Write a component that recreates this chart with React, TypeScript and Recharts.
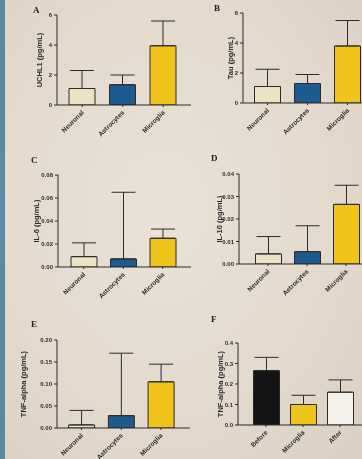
import React from "react";
import { BarChart, Bar, XAxis, YAxis, ErrorBar, Cell } from "recharts";

// ---- data ----
const cellCategories = ["Neuronal", "Astrocytes", "Microglia"];
const treatCategories = ["Before", "Microglia", "After"];

const uchl1Values = [1.1, 1.35, 3.95];
const uchl1Upper = [2.3, 2.0, 5.6];
const tauValues = [1.1, 1.3, 3.8];
const tauUpper = [2.25, 1.9, 5.5];
const il6Values = [0.009, 0.007, 0.025];
const il6Upper = [0.021, 0.065, 0.033];
const il10Values = [0.0045, 0.0055, 0.0265];
const il10Upper = [0.0122, 0.017, 0.035];
const tnfCellValues = [0.007, 0.028, 0.105];
const tnfCellUpper = [0.04, 0.17, 0.145];
const tnfTreatValues = [0.265, 0.1, 0.16];
const tnfTreatUpper = [0.33, 0.145, 0.22];

const ticksAB = [0, 2, 4, 6];
const ticksC = [0, 0.02, 0.04, 0.06, 0.08];
const ticksD = [0, 0.01, 0.02, 0.03, 0.04];
const ticksE = [0, 0.05, 0.1, 0.15, 0.2];
const ticksF = [0, 0.1, 0.2, 0.3, 0.4];

const cellColors = ["#ebe3c1", "#1d5a8f", "#f0c41a"];
const treatColors = ["#141414", "#f0c41a", "#f4f0ea"];

const build = (cats: string[], vals: number[], upper: number[]) =>
  cats.map((c, i) => ({ name: c, value: vals[i], err: [0, upper[i] - vals[i]] }));

const FONT = "'Liberation Sans', Arial, sans-serif";
const INK = "#2b2b2b";

const XTick = (props: any) => {
  const { x, y, payload } = props;
  return (
    <g transform={`translate(${x + 2},${y + 4})`}>
      <text
        x={0}
        y={0}
        textAnchor="end"
        transform="rotate(-45)"
        fontSize={6.5}
        fontWeight="bold"
        fontFamily={FONT}
        fill={INK}
      >
        {payload.value}
      </text>
    </g>
  );
};

type PanelProps = {
  x0: number;
  yTop: number;
  yBot: number;
  x1: number;
  padL: number;
  band: number;
  labelOffset: number;
  label: string;
  data: any[];
  colors: string[];
  ticks: number[];
  fmt: (v: number) => string;
};

const Panel = (p: PanelProps) => {
  const AX = 50;
  const top = 8;
  const plotW = p.x1 - p.x0;
  const plotH = p.yBot - p.yTop;
  const width = AX + plotW + 2;
  const height = top + plotH + 40;
  const padR = plotW - p.padL - 3 * p.band;
  return (
    <div style={{ position: "absolute", left: p.x0 - AX, top: p.yTop - top }}>
      <BarChart
        width={width}
        height={height}
        data={p.data}
        margin={{ top, right: 2, left: 0, bottom: 0 }}
        style={{ overflow: "visible" }}
      >
        <XAxis
          dataKey="name"
          height={40}
          padding={{ left: p.padL, right: padR }}
          tick={<XTick />}
          tickSize={2}
          tickMargin={2}
          axisLine={{ stroke: INK, strokeWidth: 1 }}
          tickLine={{ stroke: INK }}
          interval={0}
        />
        <YAxis
          width={AX}
          domain={[p.ticks[0], p.ticks[p.ticks.length - 1]]}
          ticks={p.ticks}
          tickFormatter={p.fmt}
          tickSize={3}
          tickMargin={2}
          axisLine={{ stroke: INK, strokeWidth: 1 }}
          tickLine={{ stroke: INK }}
          tick={{ fontSize: 6, fontWeight: "bold", fontFamily: FONT, fill: INK }}
          allowDataOverflow
          label={{
            value: p.label,
            angle: -90,
            position: "insideLeft",
            offset: p.labelOffset,
            style: {
              textAnchor: "middle",
              fontSize: 7.5,
              fontWeight: "bold",
              fontFamily: FONT,
              fill: INK,
            },
          }}
        />
        <Bar dataKey="value" barSize={26} stroke={INK} strokeWidth={1} isAnimationActive={false}>
          {p.data.map((_, i) => (
            <Cell key={i} fill={p.colors[i]} />
          ))}
          <ErrorBar dataKey="err" width={12} stroke={INK} strokeWidth={1} direction="y" />
        </Bar>
      </BarChart>
    </div>
  );
};

const Letter = ({ x, y, t }: { x: number; y: number; t: string }) => (
  <div
    style={{
      position: "absolute",
      left: x,
      top: y,
      fontFamily: "'Liberation Serif', 'Times New Roman', serif",
      fontWeight: "bold",
      fontSize: 9,
      color: "#222",
      lineHeight: 1,
    }}
  >
    {t}
  </div>
);

export default function App() {
  const f0 = (v: number) => String(v);
  const f2 = (v: number) => v.toFixed(2);
  const f1 = (v: number) => v.toFixed(1);
  return (
    <div
      style={{
        position: "fixed",
        left: 0,
        top: 0,
        width: 362,
        height: 459,
        overflow: "hidden",
        background: "radial-gradient(ellipse at 45% 45%, #eae2d8 0%, #e3d9cd 60%, #d9cfc3 100%)",
      }}
    >
      <div style={{ position: "absolute", left: 0, top: 0, width: 5, height: 459, background: "#5b89a3" }} />
      <Letter x={33} y={6} t="A" />
      <Letter x={214} y={4} t="B" />
      <Letter x={31} y={156} t="C" />
      <Letter x={211} y={154} t="D" />
      <Letter x={31} y={320} t="E" />
      <Letter x={211} y={315} t="F" />

      <Panel x0={57} yTop={15} yBot={105} x1={191} padL={5} band={40.5} labelOffset={32}
        label="UCHL1 (pg/mL)" data={build(cellCategories, uchl1Values, uchl1Upper)}
        colors={cellColors} ticks={ticksAB} fmt={f0} />
      <Panel x0={243} yTop={13} yBot={103} x1={375} padL={4.5} band={40} labelOffset={37}
        label="Tau (pg/mL)" data={build(cellCategories, tauValues, tauUpper)}
        colors={cellColors} ticks={ticksAB} fmt={f0} />
      <Panel x0={58} yTop={175} yBot={267} x1={191} padL={6} band={39.5} labelOffset={28}
        label="IL-6 (pg/mL)" data={build(cellCategories, il6Values, il6Upper)}
        colors={cellColors} ticks={ticksC} fmt={f2} />
      <Panel x0={239} yTop={174} yBot={264} x1={375} padL={9.5} band={39} labelOffset={30}
        label="IL-10 (pg/mL)" data={build(cellCategories, il10Values, il10Upper)}
        colors={cellColors} ticks={ticksD} fmt={f2} />
      <Panel x0={57} yTop={340} yBot={428} x1={190} padL={4.6} band={39.75} labelOffset={16}
        label="TNF-alpha (pg/mL)" data={build(cellCategories, tnfCellValues, tnfCellUpper)}
        colors={cellColors} ticks={ticksE} fmt={f2} />
      <Panel x0={238} yTop={343} yBot={425} x1={372} padL={9.5} band={37} labelOffset={32}
        label="TNF-alpha (pg/mL)" data={build(treatCategories, tnfTreatValues, tnfTreatUpper)}
        colors={treatColors} ticks={ticksF} fmt={f1} />
    </div>
  );
}
